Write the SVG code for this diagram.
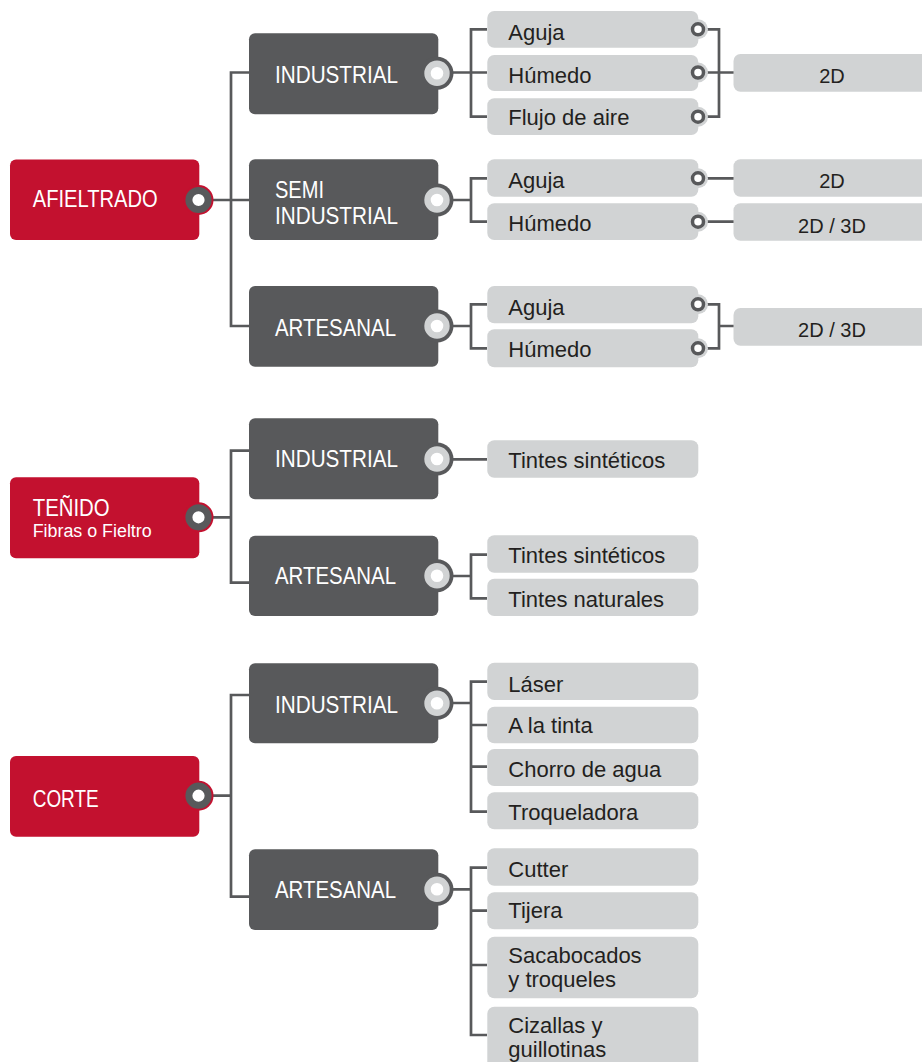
<svg xmlns="http://www.w3.org/2000/svg" width="922" height="1062" viewBox="0 0 922 1062">
<style>
.red{fill:#c3112f}
.dark{fill:#58595b}
.light{fill:#d1d3d4}
.wt{fill:#ffffff;font-family:"Liberation Sans",Arial,sans-serif;font-size:24px}
.ws{fill:#ffffff;font-family:"Liberation Sans",Arial,sans-serif;font-size:18px}
.gt{fill:#231f20;font-family:"Liberation Sans",Arial,sans-serif;font-size:22px}
.rt{fill:#231f20;font-family:"Liberation Sans",Arial,sans-serif;font-size:20px;text-anchor:middle}
.conn{fill:none;stroke:#58595b;stroke-width:2.7}
</style>
<defs>
<g id="rtab"><circle r="15" class="red"/><circle r="9.6" fill="#ffffff" stroke="#58595b" stroke-width="7"/></g>
<g id="dtab"><circle r="16.5" class="dark"/><circle r="9.5" fill="#ffffff" stroke="#d1d3d4" stroke-width="6.4"/></g>
<g id="ltab"><circle r="10" class="light"/><circle r="5.5" fill="#ffffff" stroke="#58595b" stroke-width="3.5"/></g>
</defs>
<rect width="922" height="1062" fill="#ffffff"/>
<g id="connectors" class="conn">
<path d="M213,200 H249 M249,72.5 H231 V326 H249"/>
<path d="M453,72.5 H471 M487,29.3 H471 V116.7 H487 M471,72.5 H487"/>
<path d="M706,29.3 H719 V116.7 H706 M706,72.5 H734"/>
<path d="M453,200 H471 M487,178.3 H471 V221.7 H487 M706,178.3 H734 M706,221.7 H734"/>
<path d="M453,326 H471 M487,304.3 H471 V348.3 H487 M706,304.3 H719 V348.3 H706 M719,326 H734"/>
<path d="M213,517.3 H231 M249,450.7 H231 V582.7 H249"/>
<path d="M453,459.3 H487"/>
<path d="M453,576 H471 M487,554.7 H471 V598.3 H487"/>
<path d="M213,795.7 H231 M249,695 H231 V896.7 H249"/>
<path d="M453,703 H471 M487,681.7 H471 V811.7 H487 M471,725 H487 M471,766.7 H487"/>
<path d="M453,889.3 H471 M487,867.7 H471 V1035 H487 M471,910.7 H487 M471,965 H487"/>
</g>
<g id="afieltrado"><rect x="10" y="159.5" width="189.3" height="80.5" rx="6" class="red"/><use href="#rtab" x="198.5" y="200"/><text x="32.7" y="207.3" class="wt" textLength="125" lengthAdjust="spacingAndGlyphs">AFIELTRADO</text></g>
<g id="tenido"><rect x="10" y="477.3" width="189.3" height="81" rx="6" class="red"/><use href="#rtab" x="198.5" y="517.3"/><text x="32.7" y="516" class="wt" textLength="77" lengthAdjust="spacingAndGlyphs">TEÑIDO</text><text x="32.7" y="537.3" class="ws" textLength="119" lengthAdjust="spacingAndGlyphs">Fibras o Fieltro</text></g>
<g id="corte"><rect x="10" y="756" width="189.3" height="80.7" rx="6" class="red"/><use href="#rtab" x="198.5" y="795.7"/><text x="32.7" y="806.7" class="wt" textLength="66" lengthAdjust="spacingAndGlyphs">CORTE</text></g>
<g id="af-industrial"><rect x="249" y="33.3" width="189.3" height="81" rx="6" class="dark"/><use href="#dtab" x="437" y="73.3"/><text x="275" y="83.3" class="wt" textLength="123" lengthAdjust="spacingAndGlyphs">INDUSTRIAL</text></g>
<g id="af-semi"><rect x="249" y="159.3" width="189.3" height="80.7" rx="6" class="dark"/><use href="#dtab" x="437" y="200"/><text x="275" y="198" class="wt" textLength="49" lengthAdjust="spacingAndGlyphs">SEMI</text><text x="275" y="224" class="wt" textLength="123" lengthAdjust="spacingAndGlyphs">INDUSTRIAL</text></g>
<g id="af-artesanal"><rect x="249" y="286" width="189.3" height="80.7" rx="6" class="dark"/><use href="#dtab" x="437" y="326"/><text x="275" y="336" class="wt" textLength="121" lengthAdjust="spacingAndGlyphs">ARTESANAL</text></g>
<g id="te-industrial"><rect x="249" y="418.3" width="189.3" height="81" rx="6" class="dark"/><use href="#dtab" x="437" y="459"/><text x="275" y="467.3" class="wt" textLength="123" lengthAdjust="spacingAndGlyphs">INDUSTRIAL</text></g>
<g id="te-artesanal"><rect x="249" y="535.7" width="189.3" height="80.3" rx="6" class="dark"/><use href="#dtab" x="437" y="575.7"/><text x="275" y="584" class="wt" textLength="121" lengthAdjust="spacingAndGlyphs">ARTESANAL</text></g>
<g id="co-industrial"><rect x="249" y="663.3" width="189.3" height="80" rx="6" class="dark"/><use href="#dtab" x="437" y="703.3"/><text x="275" y="712.7" class="wt" textLength="123" lengthAdjust="spacingAndGlyphs">INDUSTRIAL</text></g>
<g id="co-artesanal"><rect x="249" y="849.3" width="189.3" height="80.7" rx="6" class="dark"/><use href="#dtab" x="437" y="889.3"/><text x="275" y="898.3" class="wt" textLength="121" lengthAdjust="spacingAndGlyphs">ARTESANAL</text></g>
<g id="af-ind-aguja"><rect x="487.3" y="11" width="211" height="36.7" rx="7" class="light"/><use href="#ltab" x="698" y="29.3"/><text x="508.3" y="39.5" class="gt">Aguja</text></g>
<g id="af-ind-humedo"><rect x="487.3" y="55" width="211" height="36" rx="7" class="light"/><use href="#ltab" x="698" y="72.5"/><text x="508.3" y="82.7" class="gt">Húmedo</text></g>
<g id="af-ind-flujo"><rect x="487.3" y="98.3" width="211" height="36.7" rx="7" class="light"/><use href="#ltab" x="698" y="116.7"/><text x="508.3" y="125" class="gt">Flujo de aire</text></g>
<g id="af-ind-2d"><rect x="733.5" y="54" width="200" height="37.7" rx="7" class="light"/><text x="832" y="82.7" class="rt">2D</text></g>
<g id="af-semi-aguja"><rect x="487.3" y="159.3" width="211" height="37.4" rx="7" class="light"/><use href="#ltab" x="698" y="178.3"/><text x="508.3" y="188.3" class="gt">Aguja</text></g>
<g id="af-semi-humedo"><rect x="487.3" y="203.3" width="211" height="36.7" rx="7" class="light"/><use href="#ltab" x="698" y="221.7"/><text x="508.3" y="230.5" class="gt">Húmedo</text></g>
<g id="af-semi-2d"><rect x="733.5" y="159.3" width="200" height="37.4" rx="7" class="light"/><text x="832" y="188.3" class="rt">2D</text></g>
<g id="af-semi-2d3d"><rect x="733.5" y="203.3" width="200" height="37.4" rx="7" class="light"/><text x="832" y="232.7" class="rt">2D / 3D</text></g>
<g id="af-art-aguja"><rect x="487.3" y="286" width="211" height="37.3" rx="7" class="light"/><use href="#ltab" x="698" y="304.3"/><text x="508.3" y="315" class="gt">Aguja</text></g>
<g id="af-art-humedo"><rect x="487.3" y="329.3" width="211" height="38" rx="7" class="light"/><use href="#ltab" x="698" y="348.3"/><text x="508.3" y="357.3" class="gt">Húmedo</text></g>
<g id="af-art-2d3d"><rect x="733.5" y="308" width="200" height="37.7" rx="7" class="light"/><text x="832" y="336.7" class="rt">2D / 3D</text></g>
<g id="te-ind-sint"><rect x="487.3" y="440.3" width="211" height="37.4" rx="7" class="light"/><text x="508.3" y="468.3" class="gt">Tintes sintéticos</text></g>
<g id="te-art-sint"><rect x="487.3" y="535.3" width="211" height="37.4" rx="7" class="light"/><text x="508.3" y="562.7" class="gt">Tintes sintéticos</text></g>
<g id="te-art-nat"><rect x="487.3" y="578.7" width="211" height="37.3" rx="7" class="light"/><text x="508.3" y="606.7" class="gt">Tintes naturales</text></g>
<g id="co-ind-laser"><rect x="487.3" y="662.7" width="211" height="37.3" rx="7" class="light"/><text x="508.3" y="691.7" class="gt">Láser</text></g>
<g id="co-ind-tinta"><rect x="487.3" y="706.7" width="211" height="36.6" rx="7" class="light"/><text x="508.3" y="733.3" class="gt">A la tinta</text></g>
<g id="co-ind-chorro"><rect x="487.3" y="749" width="211" height="37" rx="7" class="light"/><text x="508.3" y="776.7" class="gt">Chorro de agua</text></g>
<g id="co-ind-troq"><rect x="487.3" y="792.3" width="211" height="37" rx="7" class="light"/><text x="508.3" y="820" class="gt">Troqueladora</text></g>
<g id="co-art-cutter"><rect x="487.3" y="848.3" width="211" height="37.4" rx="7" class="light"/><text x="508.3" y="876.7" class="gt">Cutter</text></g>
<g id="co-art-tijera"><rect x="487.3" y="892.3" width="211" height="37" rx="7" class="light"/><text x="508.3" y="918.3" class="gt">Tijera</text></g>
<g id="co-art-sacabocados"><rect x="487.3" y="936.7" width="211" height="61.6" rx="7" class="light"/><text x="508.3" y="963.3" class="gt">Sacabocados</text><text x="508.3" y="986.7" class="gt">y troqueles</text></g>
<g id="co-art-cizallas"><rect x="487.3" y="1006.7" width="211" height="70" rx="7" class="light"/><text x="508.3" y="1033.3" class="gt">Cizallas y</text><text x="508.3" y="1056.5" class="gt">guillotinas</text></g>
</svg>
